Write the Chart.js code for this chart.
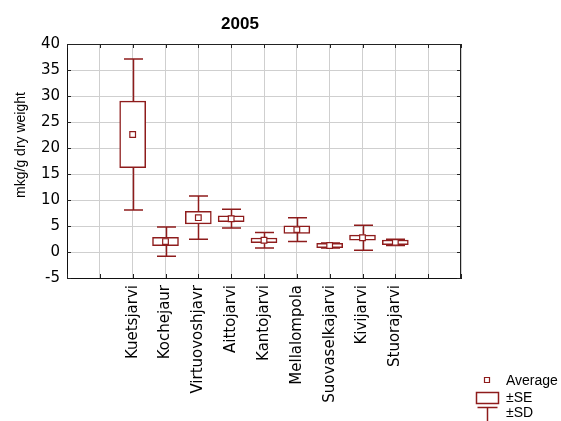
<!DOCTYPE html>
<html>
<head>
<meta charset="utf-8">
<script src="https://cdn.jsdelivr.net/npm/chart.js@4"></script>
<style>
html,body{margin:0;padding:0;background:#fff;}
#wrap{width:561px;height:421px;position:relative;}
</style>
</head>
<body>
<div id="wrap"><canvas id="c" width="561" height="421"></canvas></div>
<script>
// ---- data ----
const categories = ['Kuetsjarvi','Kochejaur','Virtuovoshjavr','Aittojarvi','Kantojarvi','Mellalompola','Suovaselkajarvi','Kivijarvi','Stuorajarvi'];
const means = [22.6, 2.0, 6.6, 6.4, 2.25, 4.3, 1.25, 2.75, 1.85];
const se    = [6.4, 0.8, 1.2, 0.55, 0.45, 0.73, 0.4, 0.48, 0.45];
const sd    = [14.5, 2.8, 4.15, 1.8, 1.5, 2.3, 0.5, 2.4, 0.6];
const yTicks = [-5, 0, 5, 10, 15, 20, 25, 30, 35, 40];
const titleText = '2005';
const yTitle = 'mkg/g dry weight';
const legendLabels = ['Average', '\u00B1SE', '\u00B1SD'];

// padded category axis (two empty slots either side)
const padL = 2, padR = 2;
const labels = [...Array(padL).fill(''), ...categories, ...Array(padR).fill('')];
const pad = arr => [...Array(padL).fill(null), ...arr, ...Array(padR).fill(null)];
const seBoxes = pad(categories.map((_, i) => [means[i] - se[i], means[i] + se[i]]));
const meanPts = pad(means);

const RED = '#8e1c1c';

const whiskerPlugin = {
  id: 'whiskers',
  beforeDatasetsDraw(chart) {
    const {ctx, scales: {x, y}} = chart;
    ctx.save();
    ctx.strokeStyle = RED;
    ctx.lineWidth = 1.5;
    categories.forEach((c, i) => {
      const px = Math.round(x.getPixelForValue(i + padL)) + 0.5;
      const top = y.getPixelForValue(means[i] + sd[i]);
      const bot = y.getPixelForValue(means[i] - sd[i]);
      const hw = 9.5;
      ctx.beginPath();
      ctx.moveTo(px, top); ctx.lineTo(px, bot);
      ctx.moveTo(px - hw, top); ctx.lineTo(px + hw, top);
      ctx.moveTo(px - hw, bot); ctx.lineTo(px + hw, bot);
      ctx.stroke();
    });
    ctx.restore();
  }
};

const decoPlugin = {
  id: 'deco',
  afterDraw(chart) {
    const {ctx, chartArea: a, scales: {x, y}} = chart;
    ctx.save();
    // frame top/right
    ctx.strokeStyle = '#222';
    ctx.lineWidth = 1;
    ctx.beginPath();
    ctx.moveTo(a.left, a.top + 0.5); ctx.lineTo(a.right, a.top + 0.5);
    ctx.moveTo(a.right - 0.5, a.top); ctx.lineTo(a.right - 0.5, a.bottom);
    ctx.stroke();
    // inward ticks
    ctx.beginPath();
    x.ticks.forEach((t, i) => {
      const px = Math.round(x.getPixelForTick(i)) + 0.5;
      ctx.moveTo(px, a.bottom); ctx.lineTo(px, a.bottom - 4);
      ctx.moveTo(px, a.top); ctx.lineTo(px, a.top + 4);
    });
    y.ticks.forEach((t, i) => {
      const py = Math.round(y.getPixelForTick(i)) + 0.5;
      ctx.moveTo(a.right, py); ctx.lineTo(a.right - 4, py);
      ctx.moveTo(a.left, py); ctx.lineTo(a.left + 4, py);
    });
    ctx.stroke();
    // title
    ctx.fillStyle = '#000';
    ctx.font = 'bold 17px "Liberation Sans", Arial, sans-serif';
    ctx.textAlign = 'center';
    ctx.textBaseline = 'alphabetic';
    ctx.fillText(titleText, 240, 29);
    // y title
    ctx.font = '14px "Liberation Sans", Arial, sans-serif';
    ctx.save();
    ctx.translate(25, 145);
    ctx.rotate(-Math.PI / 2);
    ctx.textAlign = 'center';
    ctx.fillText(yTitle, 0, 0);
    ctx.restore();
    // legend
    ctx.textAlign = 'left';
    ctx.fillText(legendLabels[0], 506, 385);
    ctx.fillText(legendLabels[1], 506, 402);
    ctx.fillText(legendLabels[2], 506, 417);
    ctx.strokeStyle = RED;
    ctx.lineWidth = 1.2;
    ctx.fillStyle = '#fff';
    ctx.beginPath(); ctx.rect(484.5, 377.5, 5, 5); ctx.fill(); ctx.stroke();
    ctx.lineWidth = 1.5;
    ctx.beginPath(); ctx.rect(476.5, 392.5, 22, 11); ctx.stroke();
    ctx.beginPath();
    ctx.moveTo(477.5, 407.5); ctx.lineTo(497.5, 407.5);
    ctx.moveTo(487.5, 407.5); ctx.lineTo(487.5, 421);
    ctx.stroke();
    ctx.restore();
  }
};

Chart.defaults.font.family = '"DejaVu Sans", sans-serif';
Chart.defaults.color = '#000';

new Chart(document.getElementById('c'), {
  type: 'bar',
  data: {
    labels: labels,
    datasets: [
      {
        type: 'line',
        data: meanPts,
        showLine: false,
        pointStyle: 'rect',
        pointRadius: 4,
        pointBorderWidth: 1.2,
        pointBackgroundColor: '#fff',
        pointBorderColor: RED,
        order: 0
      },
      {
        type: 'bar',
        data: seBoxes,
        backgroundColor: '#fff',
        borderColor: RED,
        borderWidth: 1.5,
        borderSkipped: false,
        barThickness: 26,
        order: 1
      }
    ]
  },
  options: {
    responsive: false,
    animation: false,
    events: [],
    layout: {padding: {left: 0, top: 44, right: 100, bottom: 0}},
    plugins: {legend: {display: false}, tooltip: {enabled: false}, title: {display: false}},
    scales: {
      x: {
        type: 'category',
        offset: false,
        grid: {offset: false, color: '#cfcfcf', drawTicks: false},
        border: {display: true, color: '#111', width: 1},
        ticks: {autoSkip: false, maxRotation: 90, minRotation: 90, padding: 7, font: {size: 15}},
        afterFit(s) { s.height = 143; }
      },
      y: {
        min: yTicks[0],
        max: yTicks[yTicks.length - 1],
        afterBuildTicks(s) { s.ticks = yTicks.map(v => ({value: v})); },
        grid: {color: '#cfcfcf', drawTicks: false},
        border: {display: true, color: '#111', width: 1},
        ticks: {padding: 7, font: {size: 15}},
        afterFit(s) { s.width = 67; }
      }
    }
  },
  plugins: [whiskerPlugin, decoPlugin]
});
</script>
</body>
</html>
